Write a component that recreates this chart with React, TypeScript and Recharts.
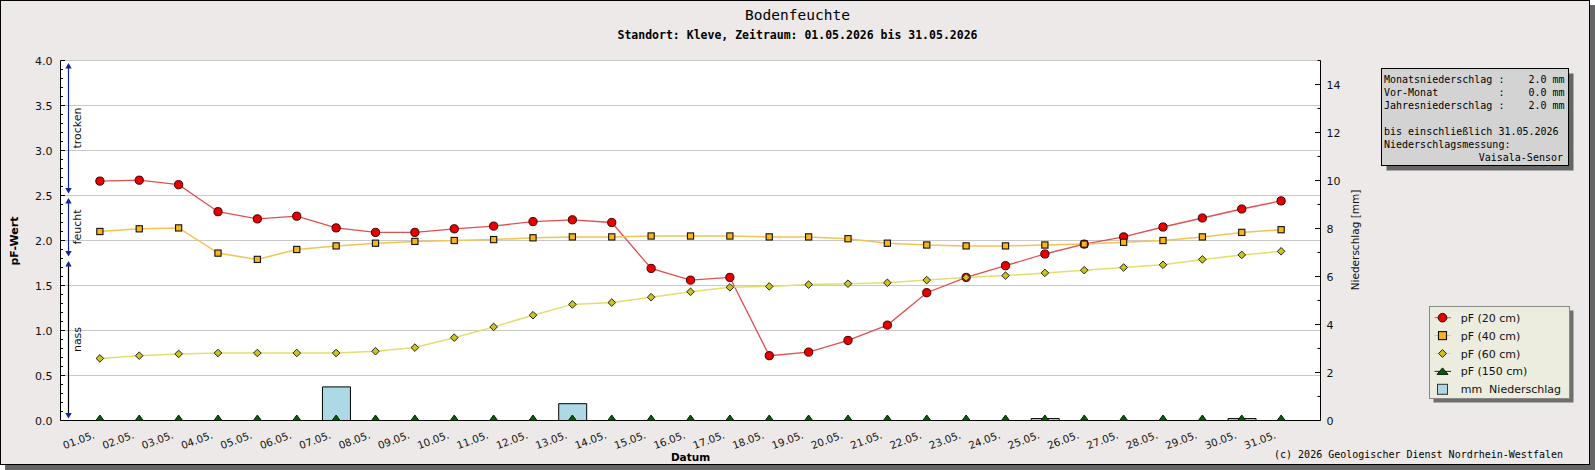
import React from 'react';
import { ComposedChart, Line, Bar, XAxis, YAxis, CartesianGrid, ReferenceArea } from 'recharts';

const dayLabels = [
  '01.05.', '02.05.', '03.05.', '04.05.', '05.05.', '06.05.', '07.05.', '08.05.', '09.05.', '10.05.',
  '11.05.', '12.05.', '13.05.', '14.05.', '15.05.', '16.05.', '17.05.', '18.05.', '19.05.', '20.05.',
  '21.05.', '22.05.', '23.05.', '24.05.', '25.05.', '26.05.', '27.05.', '28.05.', '29.05.', '30.05.', '31.05.',
];
const dayIndex = [1, 2, 3, 4, 5, 6, 7, 8, 9, 10, 11, 12, 13, 14, 15, 16, 17, 18, 19, 20, 21, 22, 23, 24, 25, 26, 27, 28, 29, 30, 31];

const pf20 = [2.66, 2.67, 2.62, 2.32, 2.24, 2.27, 2.14, 2.09, 2.09, 2.13, 2.16, 2.21, 2.23, 2.2, 1.69, 1.56, 1.59, 0.72, 0.76, 0.89, 1.06, 1.42, 1.59, 1.72, 1.85, 1.96, 2.04, 2.15, 2.25, 2.35, 2.44];
const pf40 = [2.1, 2.13, 2.14, 1.86, 1.79, 1.9, 1.94, 1.97, 1.99, 2.0, 2.01, 2.03, 2.04, 2.04, 2.05, 2.05, 2.05, 2.04, 2.04, 2.02, 1.97, 1.95, 1.94, 1.94, 1.95, 1.96, 1.98, 2.0, 2.04, 2.09, 2.12];
const pf60 = [0.69, 0.72, 0.74, 0.75, 0.75, 0.75, 0.75, 0.77, 0.81, 0.92, 1.04, 1.17, 1.29, 1.31, 1.37, 1.43, 1.48, 1.49, 1.51, 1.52, 1.53, 1.56, 1.59, 1.61, 1.64, 1.67, 1.7, 1.73, 1.79, 1.84, 1.88];
const pf150 = [0, 0, 0, 0, 0, 0, 0, 0, 0, 0, 0, 0, 0, 0, 0, 0, 0, 0, 0, 0, 0, 0, 0, 0, 0, 0, 0, 0, 0, 0, 0];
const rainMm = [0, 0, 0, 0, 0, 0, 1.4, 0, 0, 0, 0, 0, 0.7, 0, 0, 0, 0, 0, 0, 0, 0, 0, 0, 0, 0.08, 0, 0, 0, 0, 0.08, 0];

const pfTicks = [0, 0.1, 0.2, 0.3, 0.4, 0.5, 0.6, 0.7, 0.8, 0.9, 1.0, 1.1, 1.2, 1.3, 1.4, 1.5, 1.6, 1.7, 1.8, 1.9, 2.0,
  2.1, 2.2, 2.3, 2.4, 2.5, 2.6, 2.7, 2.8, 2.9, 3.0, 3.1, 3.2, 3.3, 3.4, 3.5, 3.6, 3.7, 3.8, 3.9, 4.0];
const pfGrid = [0.5, 1.0, 1.5, 2.0, 2.5, 3.0, 3.5, 4.0];
const rainTicks = [0, 1, 2, 3, 4, 5, 6, 7, 8, 9, 10, 11, 12, 13, 14, 15];

const zoneLabels = ['trocken', 'feucht', 'nass'];
const zoneFrom = [2.5, 1.8, 0];
const zoneTo = [4.0, 2.5, 1.8];

const infoLines = [
  'Monatsniederschlag :    2.0 mm',
  'Vor-Monat          :    0.0 mm',
  'Jahresniederschlag :    2.0 mm',
  '',
  'bis einschließlich 31.05.2026',
  'Niederschlagsmessung:',
];
const infoLast = 'Vaisala-Sensor';

const legendLabels = ['pF (20 cm)', 'pF (40 cm)', 'pF (60 cm)', 'pF (150 cm)', 'mm  Niederschlag'];

const SANS = 'DejaVu Sans';
const MONO = 'DejaVu Sans Mono';
const BLUE = '#14239a';

const C20 = { line: '#e05050', fill: '#e80000', stroke: '#3a0000' };
const C40 = { line: '#f2c453', fill: '#f9b51d', stroke: '#111' };
const C60 = { line: '#e3df6c', fill: '#cbc41e', stroke: '#222' };
const C150 = { line: '#0a3a0a', fill: '#0b5a0b', stroke: '#002000' };

const data = dayIndex.map((d, i) => ({
  day: d,
  pf20: pf20[i],
  pf40: pf40[i],
  pf60: pf60[i],
  pf150: pf150[i],
  rain: rainMm[i],
}));

const Circle = ({ cx, cy, r }: any) => (
  <circle cx={cx} cy={cy} r={r} fill={C20.fill} stroke={C20.stroke} strokeWidth={1} />
);
const Square = ({ cx, cy, s }: any) => (
  <rect x={cx - s / 2} y={cy - s / 2} width={s} height={s} fill={C40.fill} stroke={C40.stroke} strokeWidth={1.1} />
);
const Diamond = ({ cx, cy, s }: any) => (
  <polygon points={`${cx},${cy - s} ${cx + s},${cy} ${cx},${cy + s} ${cx - s},${cy}`} fill={C60.fill} stroke={C60.stroke} strokeWidth={1} />
);
const Triangle = ({ cx, cy, w, h }: any) => (
  <polygon points={`${cx},${cy - h} ${cx + w / 2},${cy} ${cx - w / 2},${cy}`} fill={C150.fill} stroke={C150.stroke} strokeWidth={1} />
);

const dot20 = (p: any) => <Circle key={`a${p.index}`} cx={p.cx} cy={p.cy} r={4.1} />;
const dot40 = (p: any) => <Square key={`b${p.index}`} cx={p.cx} cy={p.cy} s={6.2} />;
const dot60 = (p: any) => <Diamond key={`c${p.index}`} cx={p.cx} cy={p.cy} s={3.8} />;
const dot150 = (p: any) => <Triangle key={`d${p.index}`} cx={p.cx} cy={p.cy} w={8} h={5.5} />;

const PfTick = (props: any) => {
  const { x, y, payload } = props;
  const v = payload.value;
  const major = Math.abs(v * 2 - Math.round(v * 2)) < 1e-6;
  return (
    <g>
      <line x1={x} x2={x + (major ? 4.5 : 2.5)} y1={y} y2={y} stroke="#000" strokeWidth={1} />
      {major && (
        <text x={x - 8} y={y + 4} textAnchor="end" fontSize={11} fontFamily={SANS} fill="#111">
          {v.toFixed(1)}
        </text>
      )}
    </g>
  );
};

const RainTick = (props: any) => {
  const { x, y, payload } = props;
  const v = payload.value;
  const major = v % 2 === 0;
  return (
    <g>
      <line x1={x} x2={x - (major ? 5.5 : 3)} y1={y} y2={y} stroke="#000" strokeWidth={1} />
      {major && (
        <text x={x + 6} y={y + 4} textAnchor="start" fontSize={11} fontFamily={SANS} fill="#111">
          {v}
        </text>
      )}
    </g>
  );
};

const DayTick = (props: any) => {
  const { x, y, payload } = props;
  const idx = dayIndex.indexOf(payload.value);
  const ax = x - 4.5;
  const ay = y + 17.5;
  return (
    <text x={ax} y={ay} transform={`rotate(-20, ${ax}, ${ay})`} textAnchor="end" fontSize={10.3} fontFamily={SANS} fill="#111">
      {idx >= 0 ? dayLabels[idx] : ''}
    </text>
  );
};

const ZoneMarker = (props: any) => {
  const { x, y, height, label, lineColor } = props;
  const lx = x + 8;
  const top = y + 2.5;
  const bot = y + height - 2;
  const ah = 5.5;
  const aw = 3.2;
  return (
    <g>
      <line x1={lx} x2={lx} y1={top + 2} y2={bot - 2} stroke={lineColor} strokeWidth={1.2} />
      <polygon points={`${lx},${top} ${lx - aw},${top + ah} ${lx + aw},${top + ah}`} fill={BLUE} />
      <polygon points={`${lx},${bot} ${lx - aw},${bot - ah} ${lx + aw},${bot - ah}`} fill={BLUE} />
      <text transform={`translate(${x + 20}, ${y + height / 2}) rotate(-90)`} textAnchor="middle" fontSize={11} fontFamily={SANS} fill="#111">
        {label}
      </text>
    </g>
  );
};

const LegendIcon = ({ i, cx, cy }: any) => {
  if (i === 0) return (<g><line x1={cx - 8} x2={cx + 8.5} y1={cy} y2={cy} stroke={C20.line} /><Circle cx={cx} cy={cy} r={4.3} /></g>);
  if (i === 1) return (<g><line x1={cx - 8} x2={cx + 8.5} y1={cy} y2={cy} stroke={C40.line} /><Square cx={cx} cy={cy} s={8} /></g>);
  if (i === 2) return (<g><line x1={cx - 8} x2={cx + 8.5} y1={cy} y2={cy} stroke={C60.line} /><Diamond cx={cx} cy={cy} s={3.9} /></g>);
  if (i === 3) return (<g><line x1={cx - 8} x2={cx + 8.5} y1={cy} y2={cy} stroke={C150.line} /><Triangle cx={cx} cy={cy + 3} w={11} h={6.5} /></g>);
  return <rect x={cx - 5} y={cy - 5} width={10} height={10} fill="#add8e6" stroke="#333" strokeWidth={1} />;
};

export default function App() {
  return (
    <div style={{ position: 'relative', width: 1595, height: 470 }}>
      <style>{'body{margin:0;}'}</style>
      <div
        style={{
          position: 'absolute', left: 0, top: 0, width: 1590, height: 465, boxSizing: 'border-box',
          border: '1px solid #000', background: '#ece9e8', boxShadow: '5px 5px 0 #666',
        }}
      />
      <div style={{ position: 'absolute', left: 0, top: 0 }}>
        <ComposedChart width={1595} height={470} data={data} margin={{ top: 60.5, right: 214.5, bottom: 19.5, left: 0.5 }}>
          <CartesianGrid yAxisId="left" vertical={false} horizontalValues={pfGrid} stroke="#c8c8c8" fill="#ffffff" />
          <XAxis
            dataKey="day" type="number" domain={[0, 32]} ticks={dayIndex} interval={0} height={30}
            tickSize={0} tickMargin={0} tickLine={false} axisLine={{ stroke: '#000' }} tick={<DayTick />}
          />
          <YAxis
            yAxisId="left" orientation="left" type="number" domain={[0, 4]} ticks={pfTicks} interval={0} width={60}
            tickSize={0} tickMargin={0} tickLine={false} axisLine={{ stroke: '#000' }} tick={<PfTick />}
          />
          <YAxis
            yAxisId="right" orientation="right" type="number" domain={[0, 15]} ticks={rainTicks} interval={0} width={60}
            tickSize={0} tickMargin={0} tickLine={false} axisLine={{ stroke: '#000' }} tick={<RainTick />}
          />
          {zoneLabels.map((lab, i) => (
            <ReferenceArea
              key={lab} yAxisId="left" y1={zoneFrom[i]} y2={zoneTo[i]}
              shape={(p: any) => <ZoneMarker {...p} label={lab} lineColor={i === 2 ? '#000' : BLUE} />}
            />
          ))}
          <Bar yAxisId="right" dataKey="rain" barSize={28} fill="#add8e6" stroke="#000" strokeWidth={1} isAnimationActive={false} />
          <Line yAxisId="left" type="linear" dataKey="pf20" stroke={C20.line} strokeWidth={1.3} dot={dot20} activeDot={false} isAnimationActive={false} />
          <Line yAxisId="left" type="linear" dataKey="pf40" stroke={C40.line} strokeWidth={1.5} dot={dot40} activeDot={false} isAnimationActive={false} />
          <Line yAxisId="left" type="linear" dataKey="pf60" stroke={C60.line} strokeWidth={1.5} dot={dot60} activeDot={false} isAnimationActive={false} />
          <Line yAxisId="left" type="linear" dataKey="pf150" stroke={C150.line} strokeWidth={1} dot={dot150} activeDot={false} isAnimationActive={false} />
        </ComposedChart>
      </div>
      <svg width={1595} height={470} style={{ position: 'absolute', left: 0, top: 0, pointerEvents: 'none' }}>
        <text x={797.5} y={20} textAnchor="middle" fontSize={14.5} fontFamily={MONO} fill="#000">Bodenfeuchte</text>
        <text x={797.5} y={39} textAnchor="middle" fontSize={11.5} fontWeight="bold" fontFamily={MONO} fill="#000">
          Standort: Kleve, Zeitraum: 01.05.2026 bis 31.05.2026
        </text>
        <text transform="translate(18, 241) rotate(-90)" textAnchor="middle" fontSize={11} fontWeight="bold" fontFamily={SANS} fill="#000">pF-Wert</text>
        <text transform="translate(1359, 240) rotate(-90)" textAnchor="middle" fontSize={10.5} fontFamily={SANS} fill="#111">Niederschlag [mm]</text>
        <text x={690.5} y={461} textAnchor="middle" fontSize={10.5} fontWeight="bold" fontFamily={SANS} fill="#000">Datum</text>
        <text x={1563} y={458} textAnchor="end" fontSize={10} fontFamily={MONO} fill="#000">(c) 2026 Geologischer Dienst Nordrhein-Westfalen</text>

        <rect x={1386.5} y={73.5} width={187} height={97} fill="#666" />
        <rect x={1381.5} y={68.5} width={187} height={97} fill="#d3d3d3" stroke="#000" strokeWidth={1} />
        {infoLines.map((t, i) => (
          <text key={i} x={1384} y={82.7 + i * 13.1} fontSize={10} fontFamily={MONO} fill="#000" xmlSpace="preserve" style={{ whiteSpace: 'pre' }}>{t}</text>
        ))}
        <text x={1563} y={82.7 + 6 * 13.1} textAnchor="end" fontSize={10} fontFamily={MONO} fill="#000">{infoLast}</text>

        <rect x={1433.5} y={310.5} width={140} height={92} fill="#6e6e6e" />
        <rect x={1429.5} y={306.5} width={140} height={92} fill="#ececdf" stroke="#888" strokeWidth={1} />
        {legendLabels.map((t, i) => (
          <g key={t}>
            <LegendIcon i={i} cx={1442.5} cy={317.7 + i * 17.9} />
            <text x={1460.7} y={317.7 + i * 17.9 + 4} fontSize={11} fontFamily={SANS} fill="#111" xmlSpace="preserve" style={{ whiteSpace: 'pre' }}>{t}</text>
          </g>
        ))}
      </svg>
    </div>
  );
}
